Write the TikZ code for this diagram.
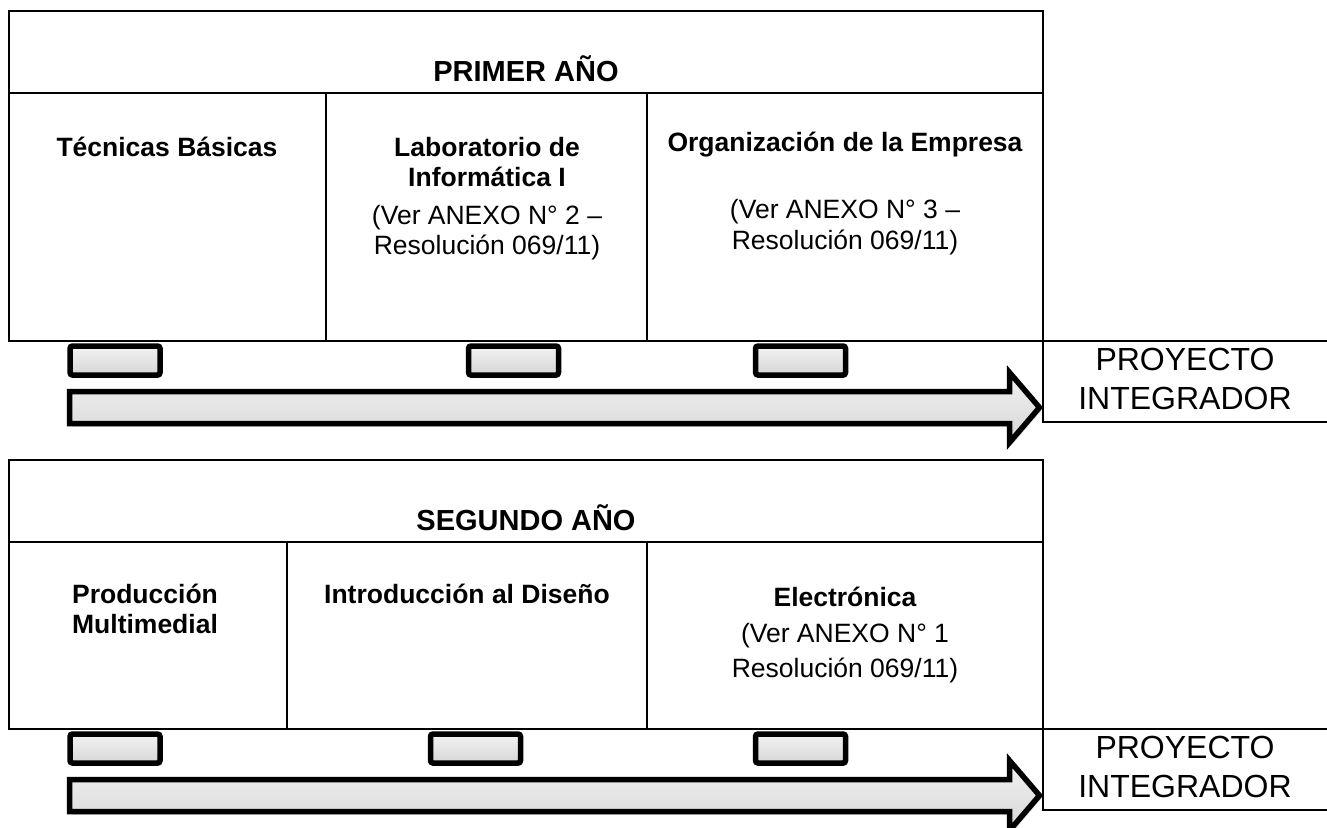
\documentclass[tikz,border=0pt]{standalone}
\usepackage{fontspec}
\setmainfont{Liberation Sans}
\usetikzlibrary{shadows}
\begin{document}
\begin{tikzpicture}[x=1pt,y=-1pt,
  grid/.style={line width=2.8pt},
  hdr/.style={anchor=base,inner sep=0pt,font=\bfseries\fontsize{29}{33}\selectfont},
  bt/.style={anchor=base,inner sep=0pt,font=\bfseries\fontsize{26.5}{30}\selectfont},
  rt/.style={anchor=base,inner sep=0pt,font=\fontsize{26.5}{30}\selectfont},
  pt/.style={anchor=base,inner sep=0pt,font=\fontsize{32}{36}\selectfont},
  smallbox/.style={draw=black,line width=5.5pt,rounded corners=2.5pt,
    top color=gray!10,bottom color=gray!32,minimum width=90pt,minimum height=29pt,
    inner sep=0pt,drop shadow={shadow xshift=2pt,shadow yshift=-3pt,opacity=0.25}},
  bigarrow/.style={draw=black,line width=5.5pt,miter limit=10,
    top color=gray!10,bottom color=gray!32,
    drop shadow={shadow xshift=2pt,shadow yshift=-3pt,opacity=0.25}}]
\useasboundingbox (0,0) rectangle (1327,827);

% ---------- first year ----------
\draw[grid] (9,11) rectangle (1043,341);
\draw[grid] (9,93) -- (1043,93);
\draw[grid] (326,93) -- (326,341);
\draw[grid] (647,93) -- (647,341);
\draw[grid] (1043,341) -- (1327,341);
\draw[grid] (1043,341) -- (1043,422) -- (1327,422);

\node[hdr] (y1) at (526,81) {PRIMER AÑO};
\node[bt] (a1) at (167,156) {Técnicas Básicas};
\node[bt] (b1) at (487,156) {Laboratorio de};
\node[bt] (b2) at (487,186) {Informática I};
\node[rt] (b3) at (487,224) {(Ver ANEXO N° 2 –};
\node[rt] (b4) at (487,254) {Resolución 069/11)};
\node[bt] (c1) at (845,151) {Organización de la Empresa};
\node[rt] (c3) at (845,218) {(Ver ANEXO N° 3 –};
\node[rt] (c4) at (845,249) {Resolución 069/11)};
\node[pt] (p1) at (1185,370) {PROYECTO};
\node[pt] (p2) at (1185,409) {INTEGRADOR};

\node[smallbox] (s11) at (115,360.5) {};
\node[smallbox] (s12) at (513.5,360.5) {};
\node[smallbox] (s13) at (800.5,360.5) {};
\path[bigarrow] (69.5,391.5) -- (1009.5,391.5) -- (1009.5,372.5) -- (1039.5,407.5)
  -- (1009.5,442.5) -- (1009.5,423.5) -- (69.5,423.5) -- cycle;

% ---------- second year ----------
\draw[grid] (9,460) rectangle (1043,729);
\draw[grid] (9,542) -- (1043,542);
\draw[grid] (287,542) -- (287,729);
\draw[grid] (647,542) -- (647,729);
\draw[grid] (1043,729) -- (1327,729);
\draw[grid] (1043,729) -- (1043,810) -- (1327,810);

\node[hdr] (y2) at (526,530) {SEGUNDO AÑO};
\node[bt] (d1) at (145,603) {Producción};
\node[bt] (d2) at (145,633) {Multimedial};
\node[bt] (e1) at (467,603) {Introducción al Diseño};
\node[bt] (f1) at (845,606) {Electrónica};
\node[rt] (f3) at (845,642) {(Ver ANEXO N° 1};
\node[rt] (f4) at (845,677) {Resolución 069/11)};
\node[pt] (q1) at (1185,758) {PROYECTO};
\node[pt] (q2) at (1185,797) {INTEGRADOR};

\node[smallbox] (s21) at (115,748.5) {};
\node[smallbox] (s22) at (475.5,748.5) {};
\node[smallbox] (s23) at (800.5,748.5) {};
\path[bigarrow] (69.5,779.5) -- (1009.5,779.5) -- (1009.5,760.5) -- (1039.5,795.5)
  -- (1009.5,830.5) -- (1009.5,811.5) -- (69.5,811.5) -- cycle;
\end{tikzpicture}
\end{document}
